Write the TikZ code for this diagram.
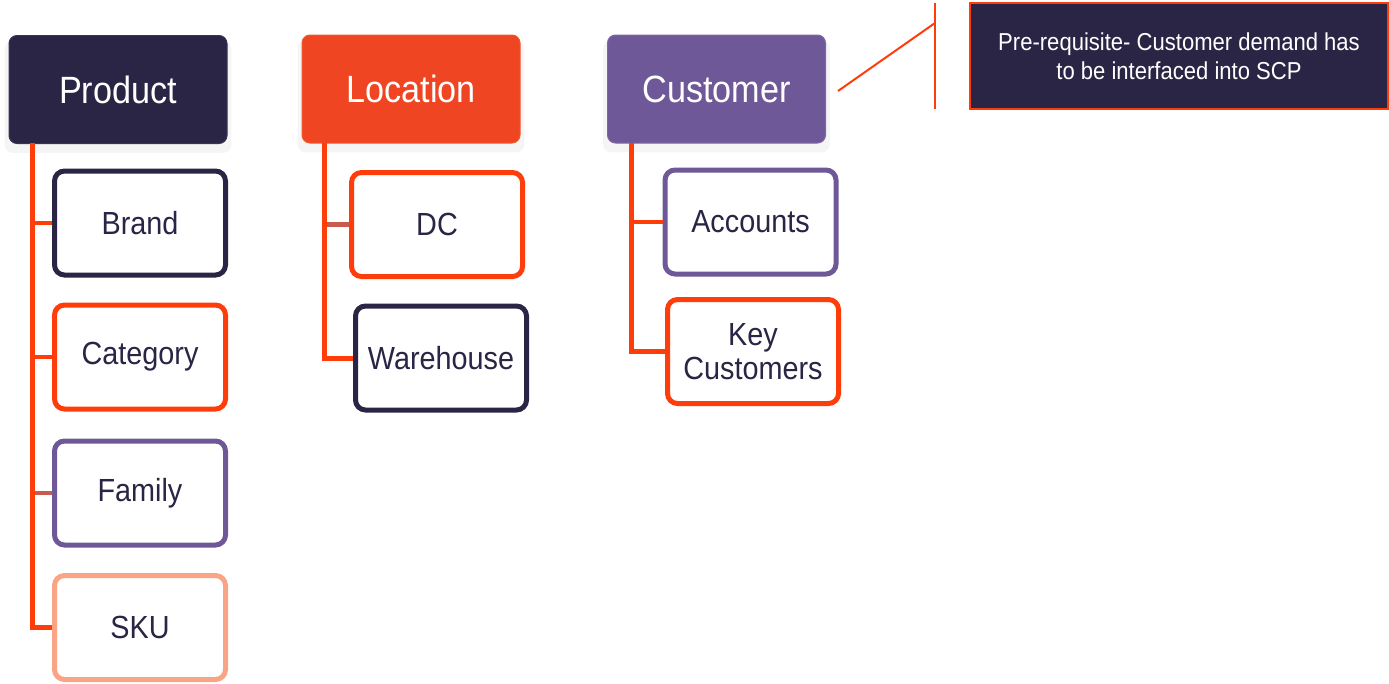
\documentclass[tikz,border=0pt]{standalone}
\usepackage{fontspec}
\setmainfont{Liberation Sans}[FakeStretch=0.9]
\usetikzlibrary{shadows,calc}
\definecolor{navy}{HTML}{2A2545}
\definecolor{navylt}{HTML}{3A3358}
\definecolor{orng}{HTML}{EF4522}
\definecolor{ornglt}{HTML}{F2582C}
\definecolor{edgeor}{HTML}{FF3D0A}
\definecolor{purp}{HTML}{6E5898}
\definecolor{purplt}{HTML}{7F66AA}
\definecolor{salmon}{HTML}{F9A484}
\definecolor{stubbr}{HTML}{C85B4B}
\tikzset{
  headbox/.style={rectangle, rounded corners=8pt, minimum width=218pt, minimum height=108pt,
    text=white, font=\fontsize{38}{44}\selectfont, inner sep=0pt,
    drop shadow={opacity=0.08, shadow xshift=0pt, shadow yshift=-7pt, shadow scale=1.04}},
  childbox/.style={rectangle, rounded corners=10pt, minimum width=171pt, minimum height=104pt,
    line width=5pt, fill=white, text=navy, font=\fontsize{32}{34}\selectfont, inner sep=0pt, align=center},
  conn/.style={draw=edgeor, line width=5pt},
  stub/.style={draw=edgeor, line width=4.5pt},
  thin conn/.style={draw=edgeor, line width=2pt},
}
\begin{document}
\begin{tikzpicture}[x=1pt,y=-1pt]
\useasboundingbox (0,0) rectangle (1389,683);
% heading boxes
\node[headbox, fill=navy, draw=navylt, line width=1pt] (Product) at (118,89.5) {Product};
\node[headbox, fill=orng, draw=ornglt, line width=1pt] (Location) at (411,89) {Location};
\node[headbox, fill=purp, draw=purplt, line width=1pt] (Customer) at (716.5,89) {Customer};
% product children
\node[childbox, draw=navy] (Brand) at (140,223) {Brand};
\node[childbox, draw=edgeor] (Category) at (140,357) {Category};
\node[childbox, draw=purp] (Family) at (140,493) {Family};
\node[childbox, draw=salmon] (SKU) at (140,627.5) {SKU};
% location children
\node[childbox, draw=edgeor] (DC) at (437,224.5) {DC};
\node[childbox, draw=navy] (Warehouse) at (441,358) {Warehouse};
% customer children
\node[childbox, draw=purp] (Accounts) at (750.5,222) {Accounts};
\node[childbox, draw=edgeor] (KeyCust) at (753,351.5) {Key\\[0pt]Customers};
% connectors
\coordinate (pv) at (32,143);
\coordinate (lv) at (324,143);
\coordinate (cv) at (631,143);
\draw[stub] (Brand.west) -- (Brand.west -| pv);
\draw[stub] (Category.west) -- (Category.west -| pv);
\draw[stub, draw=stubbr] (Family.west) -- (Family.west -| pv);
\draw[conn] (pv) |- (SKU.west);
\draw[stub, draw=stubbr] (DC.west) -- (DC.west -| lv);
\draw[conn] (lv) |- (Warehouse.west);
\draw[stub] (Accounts.west) -- (Accounts.west -| cv);
\draw[conn] (cv) |- (KeyCust.west);
% callout
\node[rectangle, fill=navy, draw=edgeor, line width=2pt, minimum width=418pt, minimum height=106pt,
  text=white, align=center, inner sep=0pt, font=\fontsize{24.5}{29}\selectfont] (Note) at (1179,56)
  {Pre-requisite- Customer demand has\\to be interfaced into SCP};
\coordinate (ctop) at (935,3);
\coordinate (cbot) at (935,109);
\coordinate (cmid) at (935,23);
\coordinate (cstart) at (838,91);
\draw[thin conn] (ctop) -- (cbot);
\draw[thin conn] (cstart) -- (cmid);
\end{tikzpicture}
\end{document}
